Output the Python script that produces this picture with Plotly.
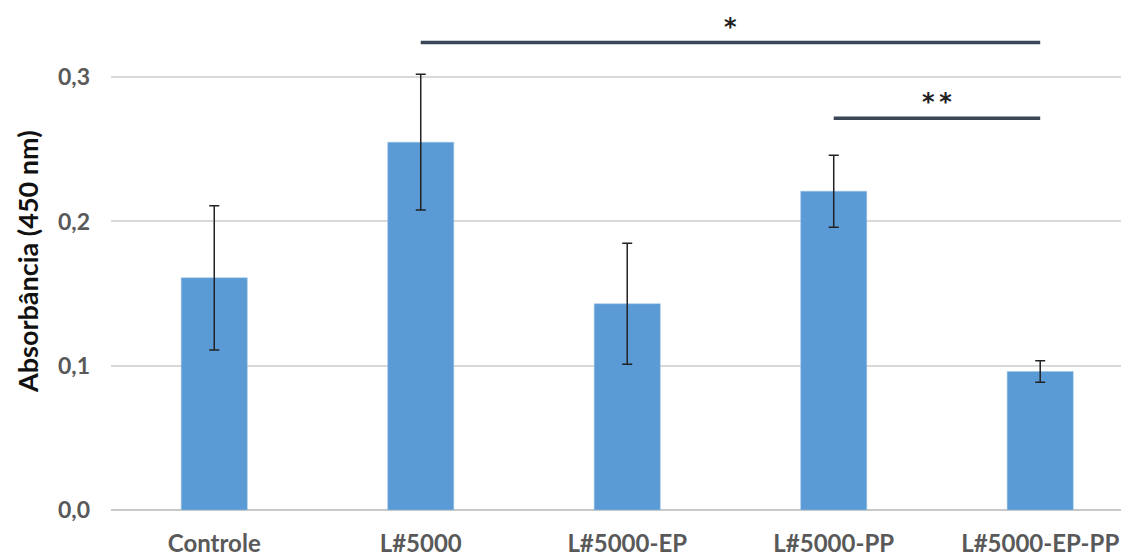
import plotly.graph_objects as go

categories = ["Controle", "L#5000", "L#5000-EP", "L#5000-PP", "L#5000-EP-PP"]
absorbance = [0.161, 0.255, 0.143, 0.221, 0.096]
errors = [0.050, 0.047, 0.042, 0.025, 0.0075]

# significance brackets: (start category, end category, height, label)
sig_start = ["L#5000", "L#5000-PP"]
sig_end = ["L#5000-EP-PP", "L#5000-EP-PP"]
sig_height = [0.324, 0.2715]
sig_label = ["*", "*\u2009*"]

yticks = [0.0, 0.1, 0.2, 0.3]
y_title = "Absorbância (450 nm)"

idx = {c: i for i, c in enumerate(categories)}
xpos = [idx[c] for c in categories]

fig = go.Figure()
fig.add_trace(go.Bar(
    x=xpos, y=absorbance, width=0.32,
    marker=dict(color="#5b9bd5", line=dict(color="#9cc3e6", width=0.5)),
    error_y=dict(type="data", array=errors, visible=True, color="#222222", thickness=1.5, width=5),
    showlegend=False,
))

for s, e, h, lab in zip(sig_start, sig_end, sig_height, sig_label):
    fig.add_trace(go.Scatter(
        x=[idx[s], idx[e]], y=[h, h], mode="lines",
        line=dict(color="#3b4656", width=3.5), showlegend=False, hoverinfo="skip",
    ))
    fig.add_annotation(
        x=(idx[s] + idx[e]) / 2, y=h, text="<b>%s</b>" % lab, showarrow=False,
        yshift=16, font=dict(family="DejaVu Sans", size=24, color="#222222"),
        xref="x", yref="y",
    )

# y-axis title as rotated annotation for precise placement
fig.add_annotation(
    xref="paper", yref="paper", x=-0.0825, y=0.494, xanchor="center", yanchor="middle",
    text="<b>%s</b>" % y_title, textangle=-90, showarrow=False, borderpad=0,
    font=dict(family="Lato", size=27, color="#111111"),
)

fig.update_layout(
    width=1121, height=549,
    margin=dict(l=103, r=0, t=0, b=47),
    paper_bgcolor="white", plot_bgcolor="white",
    bargap=0.68,
    xaxis=dict(
        type="linear", range=[-0.5, 4.43], automargin=False,
        tickvals=xpos, ticktext=["<b>%s</b>" % c for c in categories],
        tickfont=dict(family="Lato", size=24, color="#595959"),
        showgrid=False, zeroline=False, showline=False,
        ticks="", ticklabelstandoff=17,
    ),
    yaxis=dict(
        range=[0, 0.348], tickvals=yticks, automargin=False,
        ticktext=["<b>%s</b>" % ("%.1f" % v).replace(".", ",") for v in yticks],
        tickfont=dict(family="Lato", size=23, color="#595959"),
        showgrid=True, gridcolor="#d9d9d9", gridwidth=1.5,
        zeroline=True, zerolinecolor="#c8c8c8", zerolinewidth=2,
        ticks="", ticklabelstandoff=20,
    ),
    font=dict(family="Lato"),
)

fig.write_html("out.html")
